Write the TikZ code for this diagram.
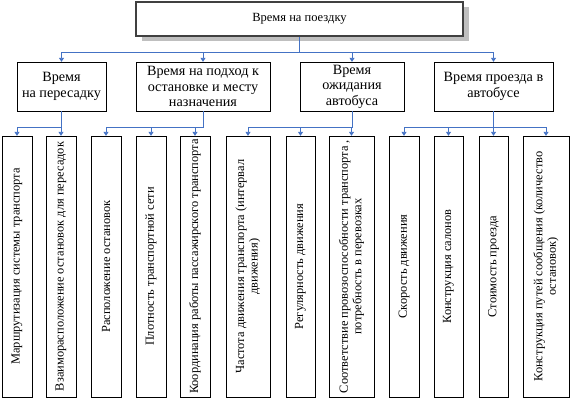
\documentclass[tikz,border=0pt]{standalone}
\usepackage{fontspec}
\setmainfont{Liberation Serif}
\usetikzlibrary{arrows.meta,shadows}
\definecolor{linkblue}{RGB}{68,114,196}
\tikzset{
  headbox/.style={draw=black!75, line width=1.6pt, fill=white, minimum width=327pt, minimum height=34pt,
    font=\fontsize{12.5}{14}\selectfont,
    drop shadow={shadow xshift=6pt, shadow yshift=-5pt, fill=black!25, opacity=1}},
  groupbox/.style={draw, thin, fill=white, align=center, minimum height=49pt, inner sep=1pt,
    font=\fontsize{14.2}{15.5}\selectfont},
  factorbox/.style={draw, thin, rotate=90, align=center, minimum width=261pt, inner sep=0pt,
    font=\fontsize{12.4}{13.5}\selectfont},
  link/.style={draw=linkblue, line width=0.9pt, -{Triangle[length=4pt,width=5pt]}},
}
\begin{document}
\begin{tikzpicture}[x=1pt, y=-1pt]
        \useasboundingbox (0,0) rectangle (571,400);

        % Вершина
        \node[headbox] (top) at (299.5,19) {Время на поездку};

        % Составляющие времени
        \node[groupbox, minimum width=89pt] (g1) at (61.5,86.5) {Время\\на пересадку};
        \node[groupbox, minimum width=134pt] (g2) at (203,86.5) {Время на подход к\\остановке и месту\\назначения};
        \node[groupbox, minimum width=104pt] (g3) at (352,86.5) {Время\\ожидания\\автобуса};
        \node[groupbox, minimum width=119pt] (g4) at (493.5,86.5) {Время проезда в\\автобусе};

        % Факторы (текст снизу вверх, east = верх)
        \node[factorbox, minimum height=30pt] (m1) at (17,266.5) {Маршрутизация системы транспорта};
        \node[factorbox, minimum height=30pt] (m2) at (61,266.5) {Взаиморасположение остановок для пересадок};
        \node[factorbox, minimum height=30pt] (m3) at (106,266.5) {Расположение остановок};
        \node[factorbox, minimum height=30pt] (m4) at (151,266.5) {Плотность транспортной сети};
        \node[factorbox, minimum height=30pt] (m5) at (195,266.5) {Координация работы пассажирского транспорта};
        \node[factorbox, minimum height=44pt] (m6) at (248,266.5) {Частота движения  транспорта (интервал\\движения)};
        \node[factorbox, minimum height=29pt] (m7) at (300.5,266.5) {Регулярность движения};
        \node[factorbox, minimum height=45pt] (m8) at (351.5,266.5) {Соответствие провозоспособности транспорта ,\\потребность в перевозках};
        \node[factorbox, minimum height=30pt] (m9) at (404,266.5) {Скорость движения};
        \node[factorbox, minimum height=29pt] (m10) at (448.5,266.5) {Конструкция салонов};
        \node[factorbox, minimum height=29pt] (m11) at (493.5,266.5) {Стоимость проезда};
        \node[factorbox, minimum height=46pt] (m12) at (546,266.5) {Конструкция путей сообщения (количество\\остановок)};

        % Связи первого уровня
        \foreach \g in {g1,g2,g3,g4}
          \draw[link] (top.south) -- ++(0,16) -| (\g.north);

        % Связи второго уровня
        \foreach \m in {m1,m2}
          \draw[link] (g1.south) -- ++(0,16) -| (\m.east);
        \foreach \m in {m3,m4,m5}
          \draw[link] (g2.south) -- ++(0,16) -| (\m.east);
        \foreach \m in {m6,m7,m8}
          \draw[link] (g3.south) -- ++(0,16) -| (\m.east);
        \foreach \m in {m9,m10,m11,m12}
          \draw[link] (g4.south) -- ++(0,16) -| (\m.east);
    \end{tikzpicture}
\end{document}
